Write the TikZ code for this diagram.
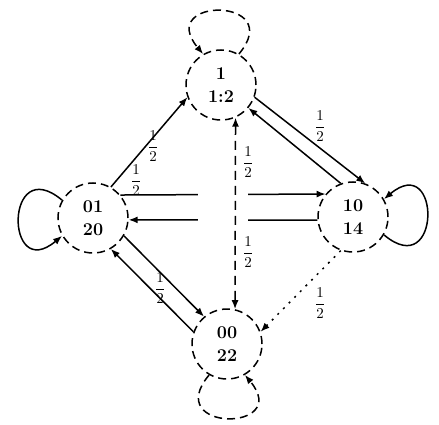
\documentclass[tikz,border=0pt]{standalone}
\usetikzlibrary{arrows.meta}
\newcommand{\halfl}{\scalebox{1.5}{$\displaystyle\frac{1}{2}$}}
\begin{document}
\begin{tikzpicture}[x=1pt,y=-1pt,
  state/.style={circle,draw,line width=1.5pt,minimum size=70pt,inner sep=0pt,align=center,font=\bfseries\fontsize{18}{23}\selectfont,dash pattern=on 8pt off 5pt},
  tip/.style={-{Latex[length=9pt,width=7pt]}},
  conn/.style={line width=1.5pt,tip},
  lab/.style={inner sep=1pt}]
\useasboundingbox (0,0) rectangle (439,425);
\node[state] (T) at (221,85) {1\\1:2};
\node[state] (L) at (93,218) {01\\20};
\node[state] (R) at (353,217) {10\\14};
\node[state] (B) at (227,344) {00\\22};
% self loops
\draw[conn,dash pattern=on 8pt off 5pt] (T.60) .. controls +(-50:75) and +(-130:75) .. (T.120);
\draw[conn] (L.150) .. controls +(-140:75) and +(140:75) .. (L.210);
\draw[conn] (R.-30) .. controls +(40:75) and +(-40:75) .. (R.30);
\draw[conn,dash pattern=on 8pt off 5pt] (B.240) .. controls +(130:75) and +(50:75) .. (B.-60);
% edges
\draw[conn] (L.60) -- (T.200);
\draw[conn] (T.-20) -- (R.70);
\draw[conn] (R.110) -- (T.-40);
\draw[conn] (L.40) -- (R.140);
\draw[conn] (R.185) -- (L.-3);
\fill[white] (198,186) rectangle (248,228);
\draw[conn,dash pattern=on 9pt off 6pt,{Latex[length=9pt,width=7pt]}-{Latex[length=9pt,width=7pt]}] (T.-66) -- (B.77);
\draw[conn] (B.160) -- (L.-60);
\draw[conn] (L.-30) -- (B.130);
\draw[conn,dash pattern=on 2pt off 6pt] (R.-110) -- (B.20);
% labels
\node[lab] (l1) at (153,146) {\halfl};
\node[lab] (l2) at (136,180) {\halfl};
\node[lab] (l3) at (248,162) {\halfl};
\node[lab] (l4) at (248,252) {\halfl};
\node[lab] (l5) at (320,126) {\halfl};
\node[lab] (l6) at (160,288) {\halfl};
\node[lab] (l7) at (320,303) {\halfl};
\end{tikzpicture}
\end{document}
